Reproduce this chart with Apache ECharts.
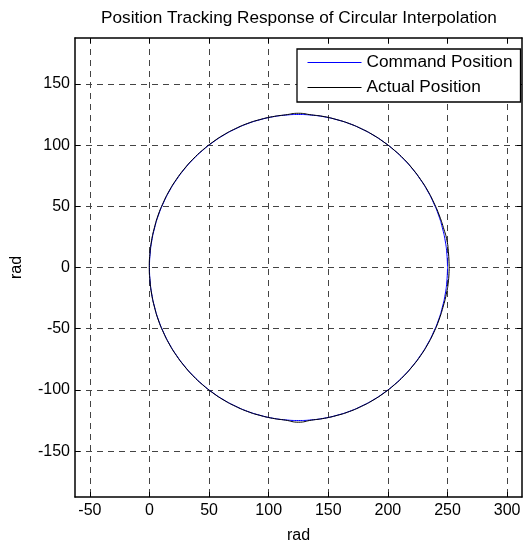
<!DOCTYPE html>
<html>
<head>
<meta charset="utf-8">
<script src="https://cdn.jsdelivr.net/npm/echarts@6/dist/echarts.min.js"></script>
<style>
  html, body { margin: 0; padding: 0; background: #fff; }
  #chart { width: 529px; height: 549px; }
</style>
</head>
<body>
<div id="chart"></div>
<script>
// Tick values shown on each axis
const xTicks = [-50, 0, 50, 100, 150, 200, 250, 300];
const yTicks = [-150, -100, -50, 0, 50, 100, 150];

// Command trajectory (rad), sampled every 5 degrees around the circle
const commandX = [
  250, 249.5, 248.1, 245.7, 242.5, 238.3, 233.3, 227.4, 220.8, 213.4, 205.3, 196.7, 187.5,
  177.8, 167.8, 157.4, 146.7, 135.9, 125, 114.1, 103.3, 92.6, 82.2, 72.2, 62.5, 53.3, 44.7,
  36.6, 29.2, 22.6, 16.7, 11.7, 7.5, 4.3, 1.9, 0.5, 0,
  0.5, 1.9, 4.3, 7.5, 11.7, 16.7, 22.6, 29.2, 36.6, 44.7, 53.3, 62.5, 72.2, 82.2, 92.6,
  103.3, 114.1, 125, 135.9, 146.7, 157.4, 167.8, 177.8, 187.5, 196.7, 205.3, 213.4, 220.8,
  227.4, 233.3, 238.3, 242.5, 245.7, 248.1, 249.5, 250];
const commandY = [
  0, 10.9, 21.7, 32.4, 42.8, 52.8, 62.5, 71.7, 80.3, 88.4, 95.8, 102.4, 108.3,
  113.3, 117.5, 120.7, 123.1, 124.5, 125, 124.5, 123.1, 120.7, 117.5, 113.3, 108.3, 102.4, 95.8,
  88.4, 80.3, 71.7, 62.5, 52.8, 42.8, 32.4, 21.7, 10.9, 0,
  -10.9, -21.7, -32.4, -42.8, -52.8, -62.5, -71.7, -80.3, -88.4, -95.8, -102.4, -108.3, -113.3, -117.5, -120.7,
  -123.1, -124.5, -125, -124.5, -123.1, -120.7, -117.5, -113.3, -108.3, -102.4, -95.8, -88.4, -80.3,
  -71.7, -62.5, -52.8, -42.8, -32.4, -21.7, -10.9, 0];

// Measured trajectory (rad)
const actualX = [
  251.4, 250.9, 249.6, 246.6, 243.0, 238.6, 233.5, 227.5, 220.9, 213.5, 205.3, 196.6, 187.4,
  177.7, 167.6, 157.2, 146.5, 135.8, 125, 114.0, 103.1, 92.4, 82.0, 72.0, 62.3, 53.1, 44.5,
  36.4, 29.0, 22.4, 16.5, 11.5, 7.3, 4.1, 1.7, 0.3, -0.2,
  0.4, 1.8, 4.2, 7.4, 11.6, 16.6, 22.5, 29.1, 36.5, 44.6, 53.2, 62.4, 72.1, 82.1, 92.5,
  103.2, 114.0, 125, 136.0, 146.8, 157.5, 167.9, 177.9, 187.6, 196.8, 205.4, 213.5, 220.9,
  227.6, 233.5, 238.6, 242.8, 246.2, 249.0, 250.8, 251.4];
const actualY = [
  0, 11.0, 21.8, 32.5, 42.9, 52.9, 62.6, 71.8, 80.4, 88.5, 95.9, 102.5, 108.4,
  113.4, 117.6, 120.8, 123.3, 124.7, 126.0, 124.7, 123.2, 120.8, 117.6, 113.4, 108.4, 102.5, 95.9,
  88.5, 80.4, 71.8, 62.6, 52.9, 42.9, 32.5, 21.8, 10.9, 0,
  -10.9, -21.8, -32.5, -42.9, -52.9, -62.6, -71.8, -80.4, -88.5, -95.9, -102.5, -108.4, -113.4, -117.6, -120.8,
  -123.2, -124.7, -126.4, -124.7, -123.2, -120.8, -117.6, -113.4, -108.4, -102.5, -95.9, -88.5, -80.4,
  -71.8, -62.6, -52.9, -42.9, -32.5, -21.8, -10.9, 0];

const commandData = commandX.map((x, i) => [x, commandY[i]]);
const actualData = actualX.map((x, i) => [x, actualY[i]]);

const fontFamily = '"Liberation Sans", Arial, sans-serif';
const gridLine = { show: true, lineStyle: { color: '#444', type: [6, 5], width: 1 } };
const axisLine = { show: true, onZero: false, lineStyle: { color: '#000', width: 1.5 } };
const tickStyle = (vals) => ({ show: true, inside: true, length: 5, customValues: vals, lineStyle: { color: '#000', width: 1 } });

const chart = echarts.init(document.getElementById('chart'), null, { renderer: 'canvas' });
chart.setOption({
  animation: false,
  backgroundColor: '#fff',
  textStyle: { fontFamily: fontFamily },
  title: {
    text: 'Position Tracking Response of Circular Interpolation',
    left: 294, top: 5, textAlign: 'center',
    textStyle: { fontSize: 17.2, fontWeight: 'normal', color: '#000', fontFamily: fontFamily }
  },
  grid: { left: 75, right: 7, top: 38, bottom: 48, containLabel: false },
  legend: {
    left: 297, top: 49,
    orient: 'vertical',
    backgroundColor: '#fff',
    borderColor: '#000', borderWidth: 1.3, borderRadius: 0,
    padding: [5, 8, 6, 10],
    itemWidth: 54, itemHeight: 18, itemGap: 8,
    itemStyle: { opacity: 0 },
    lineStyle: { width: 1 },
    textStyle: { fontSize: 17.3, color: '#000', fontFamily: fontFamily },
    data: ['Command Position', 'Actual Position']
  },
  xAxis: [{
    type: 'value', min: -62.5, max: 312.5, position: 'bottom',
    name: 'rad', nameLocation: 'middle', nameGap: 31,
    nameTextStyle: { fontSize: 16, color: '#000', fontFamily: fontFamily },
    axisLine: axisLine,
    axisTick: tickStyle(xTicks),
    axisLabel: { customValues: xTicks, fontSize: 16, color: '#000', margin: 6, fontFamily: fontFamily },
    splitLine: gridLine
  }, {
    type: 'value', min: -62.5, max: 312.5, position: 'top',
    axisLine: axisLine,
    axisTick: tickStyle(xTicks),
    axisLabel: { show: false },
    splitLine: { show: false }
  }],
  yAxis: [{
    type: 'value', min: -187.5, max: 187.5, position: 'left',
    name: 'rad', nameLocation: 'middle', nameGap: 50, nameRotate: 90,
    nameTextStyle: { fontSize: 16, color: '#000', fontFamily: fontFamily },
    axisLine: axisLine,
    axisTick: tickStyle(yTicks),
    axisLabel: { customValues: yTicks, fontSize: 16, color: '#000', margin: 5, fontFamily: fontFamily },
    splitLine: gridLine
  }, {
    type: 'value', min: -187.5, max: 187.5, position: 'right',
    axisLine: axisLine,
    axisTick: tickStyle(yTicks),
    axisLabel: { show: false },
    splitLine: { show: false }
  }],
  series: [{
    name: 'Command Position',
    type: 'line',
    data: commandData,
    smooth: true,
    symbol: 'none',
    lineStyle: { color: '#0000ff', width: 1 },
    itemStyle: { color: '#0000ff' }
  }, {
    name: 'Actual Position',
    type: 'line',
    data: actualData,
    smooth: true,
    symbol: 'none',
    lineStyle: { color: '#000', width: 1 },
    itemStyle: { color: '#000' }
  }]
});
</script>
</body>
</html>
